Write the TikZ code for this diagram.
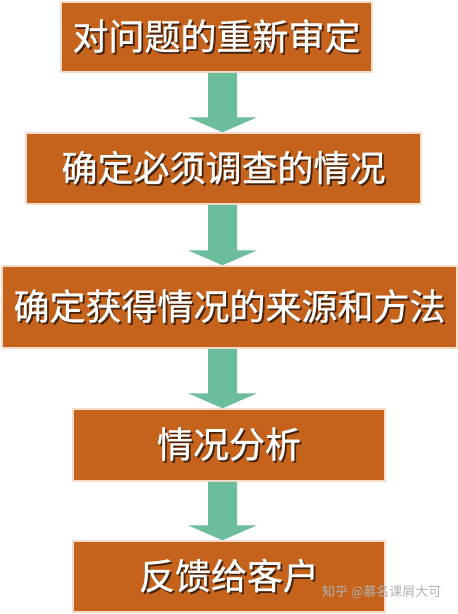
\documentclass[tikz,border=0pt]{standalone}
\usepackage{fontspec}
\setmainfont{Noto Sans CJK SC}
\newfontfamily\cjk{Noto Sans CJK SC}
\newfontfamily\cjkb[FakeBold=0.8]{Noto Sans CJK SC}
\usetikzlibrary{calc}
\definecolor{boxfill}{HTML}{C5621C}
\definecolor{boxedge}{HTML}{F6DCC8}
\definecolor{arrowgreen}{HTML}{6BBD9C}
\colorlet{shadowcol}{boxfill!35!black}
\tikzset{
  stepbox/.style={draw=boxedge, line width=1.5pt, fill=boxfill, inner sep=0pt,
    font=\cjkb\fontsize{36pt}{40pt}\selectfont, text=white},
  greenarrow/.style={fill=arrowgreen, draw=none},
  watermark/.style={text=black!30, font=\cjk\fontsize{13pt}{15pt}\selectfont, inner sep=0pt}
}
\newcommand{\shadowed}[1]{\rlap{\hspace{1.8pt}\raisebox{-1.8pt}{\textcolor{shadowcol}{#1}}}#1}
\newcommand{\labelbox}[5]{%
  \node[stepbox, minimum width=#3pt, minimum height=#4pt] (#1) at #2 {\shadowed{#5}};
}
\newcommand{\blockarrow}[2]{%
  \fill[greenarrow] let \p1=(#1.south), \p2=(#2.north), \p3=(ax) in
    (\x3-14.5pt,\y1) -- (\x3+14.5pt,\y1) -- (\x3+14.5pt,\y2+15pt) -- (\x3+34.5pt,\y2+15pt)
    -- (\x3,\y2) -- (\x3-34.5pt,\y2+15pt) -- (\x3-14.5pt,\y2+15pt) -- cycle;
}
\begin{document}
\begin{tikzpicture}[x=1pt,y=-1pt]
\useasboundingbox (0,0) rectangle (458,614);
\fill[white] (0,0) rectangle (458,614);
\coordinate (ax) at (222.5,0);
\labelbox{b1}{(216.5,37)}{311}{70}{对问题的重新审定}
\labelbox{b2}{(223.5,168.5)}{395}{71}{确定必须调查的情况}
\labelbox{b3}{(229.5,307)}{455}{82}{确定获得情况的来源和方法}
\labelbox{b4}{(229,445)}{312}{72}{情况分析}
\labelbox{b5}{(229,576.5)}{312}{71}{反馈给客户}
\blockarrow{b1}{b2}
\blockarrow{b2}{b3}
\blockarrow{b3}{b4}
\blockarrow{b4}{b5}
\node[watermark, anchor=west] (wm) at (322,592) {知乎 @慕名课屑大可};
\end{tikzpicture}
\end{document}
